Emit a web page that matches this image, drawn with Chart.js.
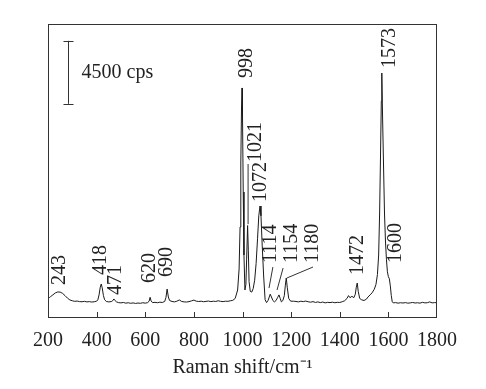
<!DOCTYPE html>
<html>
<head>
<meta charset="utf-8">
<script src="https://cdn.jsdelivr.net/npm/chart.js@4.4.0/dist/chart.umd.min.js"></script>
<style>
    html, body { margin: 0; padding: 0; background: #fff; }
</style>
</head>
<body>
<canvas id="chart" width="486" height="389"></canvas>
<script>
// Raman spectrum (cps)
const shift = [
    200, 205, 210, 220, 230, 240, 250, 260, 270, 280, 290, 300, 310, 320, 330, 340, 350, 360, 370, 380, 390,
    400, 405, 410, 415, 419, 423, 428, 433, 440, 450, 460, 466, 471, 476, 482, 490,
    500, 510, 520, 530, 540, 550, 560, 570, 580, 590, 600, 610, 616, 620, 624, 630, 640, 650, 660, 670, 680, 685, 690, 695,
    700, 710, 720, 730, 740, 750, 760, 770, 780, 790, 800, 810, 820, 830, 840, 850, 860, 870, 880, 890,
    900, 910, 920, 930, 940, 950, 960, 970, 980, 986, 990, 993, 996, 998, 1000, 1003, 1006, 1010, 1014, 1017, 1021, 1024, 1027,
    1032, 1038, 1044, 1050, 1056, 1062, 1067, 1072, 1076, 1081, 1087, 1093, 1099, 1105, 1110, 1114, 1119, 1125, 1131,
    1138, 1144, 1150, 1155, 1160, 1166, 1172, 1176, 1180, 1184, 1190, 1198,
    1210, 1220, 1230, 1240, 1250, 1260, 1270, 1280, 1290, 1300, 1310, 1320, 1330, 1340, 1350, 1360, 1370, 1380, 1390,
    1400, 1410, 1420, 1430, 1436, 1442, 1450, 1458, 1464, 1468, 1472, 1476, 1482, 1490,
    1500, 1510, 1516, 1525, 1533, 1542, 1549, 1555, 1560, 1564, 1568, 1571, 1573, 1576, 1580, 1584, 1588, 1592, 1596,
    1600, 1604, 1608, 1612, 1616, 1620, 1630, 1640, 1650, 1660, 1670, 1680, 1690,
    1700, 1710, 1720, 1730, 1740, 1750, 1760, 1770, 1780, 1790, 1800
];
const intensity = [
    1400, 1450, 1520, 1650, 1790, 1860, 1850, 1760, 1600, 1420, 1290, 1230, 1190, 1210, 1170, 1160, 1190, 1150, 1170, 1140, 1160,
    1200, 1300, 1650, 2200, 2430, 2150, 1600, 1300, 1180, 1150, 1170, 1230, 1360, 1240, 1150, 1100,
    1080, 1110, 1060, 1090, 1050, 1080, 1040, 1070, 1050, 1090, 1060, 1100, 1200, 1480, 1220, 1100, 1120, 1090, 1130, 1110, 1180, 1450, 2070, 1500,
    1250, 1180, 1150, 1200, 1290, 1180, 1150, 1140, 1170, 1220, 1280, 1200, 1180, 1200, 1160, 1190, 1210, 1170, 1200, 1180,
    1230, 1190, 1170, 1200, 1190, 1230, 1260, 1400, 2000, 3500, 6500, 11000, 15000, 16430, 14500, 9000, 4500, 2000, 2400, 4200, 6600, 4800, 2600,
    1900, 1850, 2100, 2700, 3900, 5700, 7300, 8000, 7300, 5200, 3000, 1300, 1100, 1250, 1500, 1700, 1500, 1250, 1150,
    1250, 1450, 1650, 1400, 1150, 1250, 1600, 2300, 2860, 2200, 1400, 1200,
    1200, 1180, 1150, 1200, 1170, 1210, 1160, 1130, 1170, 1110, 1150, 1100, 1140, 1080, 1120, 1100, 1130, 1090, 1120,
    1110, 1160, 1230, 1400, 1600, 1450, 1550, 1450, 1700, 2200, 2500, 1900, 1400, 1300,
    1250, 1350, 1500, 1650, 1800, 2050, 2400, 3100, 4500, 7500, 12000, 15500, 17500, 14500, 11000, 7500, 5500, 4200, 3300,
    2950, 2800, 2300, 1600, 1150, 1080, 1100, 1060, 1090, 1070, 1100, 1060, 1080,
    1110, 1070, 1090, 1060, 1120, 1080, 1090, 1150, 1080, 1100, 1090
];

const xTicks = [200, 400, 600, 800, 1000, 1200, 1400, 1600, 1800];
const peakNames = ['243', '418', '471', '620', '690', '998', '1021', '1072', '1114', '1154', '1180', '1472', '1573', '1600'];
const scaleBarCps = 4500;

// where each rotated label starts (data units)
const labelSpots = [
    [249, 2360], [418, 3070], [480, 1640], [620, 2500], [689, 2930], [1018, 17140], [1055, 11140],
    [1076, 8290], [1117, 3930], [1204, 3930], [1290, 3930], [1475, 3070], [1607, 17860], [1631, 3930]
];
const leaders = [
    [[1023, 11000], [1023, 6700]],
    [[1125, 3640], [1109, 2140]],
    [[1167, 3570], [1142, 2000]],
    [[1290, 3640], [1183, 2860]]
];

const serif = "'Liberation Serif', 'Times New Roman', serif";
Chart.defaults.font.family = serif;
Chart.defaults.color = '#222';

const decorations = {
    id: 'decorations',
    afterDraw(chart) {
        const ctx = chart.ctx;
        const a = chart.chartArea;
        const x = chart.scales.x;
        const y = chart.scales.y;
        ctx.save();
        ctx.strokeStyle = '#333';
        ctx.lineWidth = 1;
        ctx.strokeRect(a.left + 0.5, a.top + 0.5, a.right - a.left - 1, a.bottom - a.top - 1);

        // inward ticks
        ctx.beginPath();
        xTicks.slice(1, -1).forEach(function (v) {
            const px = Math.round(x.getPixelForValue(v)) + 0.5;
            ctx.moveTo(px, a.bottom);
            ctx.lineTo(px, a.bottom - 6);
        });
        ctx.stroke();

        // scale bar
        const bx = Math.round(x.getPixelForValue(282)) + 0.5;
        const y0 = y.getPixelForValue(19800);
        const y1 = y.getPixelForValue(19800 - scaleBarCps);
        ctx.beginPath();
        ctx.moveTo(bx, y0); ctx.lineTo(bx, y1);
        ctx.moveTo(bx - 5, Math.round(y0) + 0.5); ctx.lineTo(bx + 5, Math.round(y0) + 0.5);
        ctx.moveTo(bx - 5, Math.round(y1) + 0.5); ctx.lineTo(bx + 5, Math.round(y1) + 0.5);
        ctx.stroke();
        ctx.fillStyle = '#222';
        ctx.font = '20px ' + serif;
        ctx.textAlign = 'left';
        ctx.textBaseline = 'middle';
        ctx.fillText(scaleBarCps + ' cps', bx + 13, (y0 + y1) / 2);

        // peak labels
        peakNames.forEach(function (name, i) {
            ctx.save();
            ctx.translate(x.getPixelForValue(labelSpots[i][0]), y.getPixelForValue(labelSpots[i][1]));
            ctx.rotate(-Math.PI / 2);
            ctx.fillText(name, 0, 0);
            ctx.restore();
        });

        ctx.beginPath();
        leaders.forEach(function (l) {
            ctx.moveTo(x.getPixelForValue(l[0][0]), y.getPixelForValue(l[0][1]));
            ctx.lineTo(x.getPixelForValue(l[1][0]), y.getPixelForValue(l[1][1]));
        });
        ctx.stroke();
        ctx.restore();
    }
};

new Chart(document.getElementById('chart'), {
    type: 'line',
    data: {
        datasets: [{
            data: shift.map(function (s, i) { return { x: s, y: intensity[i] }; }),
            borderColor: '#1a1a1a',
            borderWidth: 1,
            pointRadius: 0,
            tension: 0,
            fill: false
        }]
    },
    options: {
        responsive: false,
        animation: false,
        layout: { padding: { left: 48, right: 49, top: 24, bottom: 0 } },
        plugins: { legend: { display: false }, tooltip: { enabled: false } },
        scales: {
            x: {
                type: 'linear',
                min: 200,
                max: 1800,
                afterFit: function (s) { s.height = 71; },
                grid: { display: false, drawTicks: false },
                border: { display: false },
                ticks: {
                    stepSize: 200, padding: 11, font: { size: 20 }, maxRotation: 0, autoSkip: false,
                    callback: function (v) { return String(v); }
                },
                title: { display: true, text: 'Raman shift/cm\u207B\u00B9', font: { size: 20 }, padding: { top: 0, bottom: 9 } }
            },
            y: { display: false, min: 0, max: 21000 }
        }
    },
    plugins: [decorations]
});
</script>
</body>
</html>
